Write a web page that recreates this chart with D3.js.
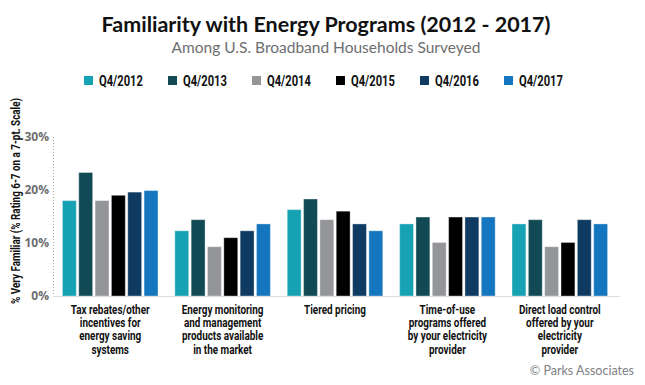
<!DOCTYPE html>
<html>
<head>
<meta charset="utf-8">
<script src="https://cdn.jsdelivr.net/npm/d3@7"></script>
<style>
  body { margin: 0; background: #fff; }
  svg { display: block; }
  .cond { font-family: Roboto, "Noto Sans", sans-serif; font-weight: bold; }
</style>
</head>
<body>
<svg id="chart" width="645" height="385"></svg>
<script>
'use strict';

// categories + series
var categories = [
  ['Tax rebates/other', 'incentives for', 'energy saving', 'systems'],
  ['Energy monitoring', 'and management', 'products available', 'in the market'],
  ['Tiered pricing'],
  ['Time-of-use', 'programs offered', 'by your electricity', 'provider'],
  ['Direct load control', 'offered by your', 'electricity', 'provider']
];
var catKeys = ['tax', 'monitor', 'tiered', 'tou', 'dlc'];
var series = ['Q4/2012', 'Q4/2013', 'Q4/2014', 'Q4/2015', 'Q4/2016', 'Q4/2017'];
var colors = ['#17a2b3', '#114a55', '#939598', '#000000', '#0f3a61', '#1476be'];

// values per series, % (one entry per category)
var q4_2012 = [18, 12.3, 16.3, 13.6, 13.6];
var q4_2013 = [23.3, 14.4, 18.3, 14.9, 14.4];
var q4_2014 = [18, 9.3, 14.4, 10.1, 9.3];
var q4_2015 = [19, 11, 16, 14.9, 10.1];
var q4_2016 = [19.6, 12.3, 13.6, 14.9, 14.4];
var q4_2017 = [19.9, 13.6, 12.3, 14.9, 13.6];
var allValues = [q4_2012, q4_2013, q4_2014, q4_2015, q4_2016, q4_2017];

var yTicks = [0, 0.1, 0.2, 0.3];

var svg = d3.select('#chart');

// no condensed font here, so measure a sample and squeeze to the wanted width
function squeezeFor(sample, size, wanted) {
  var t = svg.append('text').attr('class', 'cond').style('font-size', size).text(sample);
  var w = t.node().getComputedTextLength();
  t.remove();
  return wanted / w;
}
var legendSqueeze = squeezeFor('Q4/2012', '14px', 44);
var labelSqueeze = squeezeFor('Tax rebates/other', '12.5px', 79);

// titles
svg.append('text')
  .attr('x', 326).attr('y', 32)
  .attr('text-anchor', 'middle')
  .style('font-family', 'Lato, "Open Sans", sans-serif')
  .style('font-weight', 'bold')
  .style('font-size', '21.5px')
  .attr('fill', '#111')
  .text('Familiarity with Energy Programs (2012 - 2017)');

svg.append('text')
  .attr('x', 326).attr('y', 53)
  .attr('text-anchor', 'middle')
  .style('font-family', 'Lato, "Open Sans", sans-serif')
  .style('font-size', '15.5px')
  .attr('fill', '#6d6e71')
  .text('Among U.S. Broadband Households Surveyed');

// legend
var legend = svg.append('g').selectAll('g').data(series)
  .enter()
  .append('g')
  .attr('transform', function(d, i) { return 'translate(' + (84 + i * 84) + ',0)'; });

legend.append('rect')
  .attr('x', 0).attr('y', 76)
  .attr('width', 9).attr('height', 9)
  .attr('fill', function(d, i) { return colors[i]; });

legend.append('text')
  .attr('class', 'cond')
  .attr('transform', 'translate(15,85.5) scale(' + legendSqueeze + ',1)')
  .style('font-size', '14px')
  .attr('fill', '#111')
  .text(function(d) { return d; });

// scales
var x0 = d3.scaleBand().domain(catKeys).range([54, 616]).paddingInner(0.15).paddingOuter(0.075);
var x1 = d3.scaleBand().domain(series).range([0, x0.bandwidth()]).paddingInner(0.15);
var y = d3.scaleLinear().domain([0, 0.3]).range([296, 137]);

// y axis (dotted)
svg.append('line')
  .attr('x1', 53.5).attr('x2', 53.5)
  .attr('y1', y(0.3)).attr('y2', y(0))
  .attr('stroke', '#aaa')
  .attr('stroke-dasharray', '1,2');

var yAxis = svg.append('g')
  .attr('transform', 'translate(53,0)')
  .call(d3.axisLeft(y).tickValues(yTicks).tickFormat(d3.format('.0%')).tickSize(0).tickPadding(4));
yAxis.select('.domain').remove();
yAxis.selectAll('text')
  .style('font-family', '"Open Sans", sans-serif')
  .style('font-weight', 'bold')
  .style('font-size', '12px')
  .attr('fill', '#6d6e71');

// y axis title
svg.append('text')
  .attr('class', 'cond')
  .attr('transform', 'translate(20,201) rotate(-90)')
  .attr('text-anchor', 'middle')
  .attr('textLength', 206)
  .attr('lengthAdjust', 'spacingAndGlyphs')
  .style('font-size', '13px')
  .attr('fill', '#111')
  .text('% Very Familiar (% Rating 6-7 on a 7-pt. Scale)');

// bars
var groups = svg.append('g').selectAll('g').data(catKeys)
  .enter()
  .append('g')
  .attr('transform', function(d) { return 'translate(' + x0(d) + ',0)'; });

groups.selectAll('rect')
  .data(function(d, ci) { return series.map(function(s, si) { return { s: s, i: si, v: allValues[si][ci] / 100 }; }); })
  .enter()
  .append('rect')
  .attr('x', function(d) { return x1(d.s); })
  .attr('y', function(d) { return y(d.v); })
  .attr('width', x1.bandwidth())
  .attr('height', function(d) { return y(0) - y(d.v); })
  .attr('fill', function(d) { return colors[d.i]; })
  .attr('stroke', 'rgba(255,255,255,0.35)')
  .attr('stroke-width', 1);

// baseline
svg.append('line')
  .attr('x1', 53).attr('x2', 620)
  .attr('y1', y(0) + 0.5).attr('y2', y(0) + 0.5)
  .attr('stroke', '#ddd');

// category labels
var labels = svg.append('g').selectAll('text').data(categories)
  .enter()
  .append('text')
  .attr('class', 'cond')
  .attr('text-anchor', 'middle')
  .attr('transform', function(d, i) {
    return 'translate(' + (x0(catKeys[i]) + x0.bandwidth() / 2) + ',314) scale(' + labelSqueeze + ',1)';
  })
  .style('font-size', '12.5px')
  .attr('fill', '#111');

labels.selectAll('tspan').data(function(d) { return d; })
  .enter()
  .append('tspan')
  .attr('x', 0)
  .attr('dy', function(d, i) { return i === 0 ? 0 : 13.2; })
  .text(function(d) { return d; });

// source
svg.append('text')
  .attr('x', 634).attr('y', 375)
  .attr('text-anchor', 'end')
  .style('font-family', 'Lato, "Open Sans", sans-serif')
  .style('font-size', '12.5px')
  .attr('fill', '#808285')
  .text('\u00a9 Parks Associates');
</script>
</body>
</html>
